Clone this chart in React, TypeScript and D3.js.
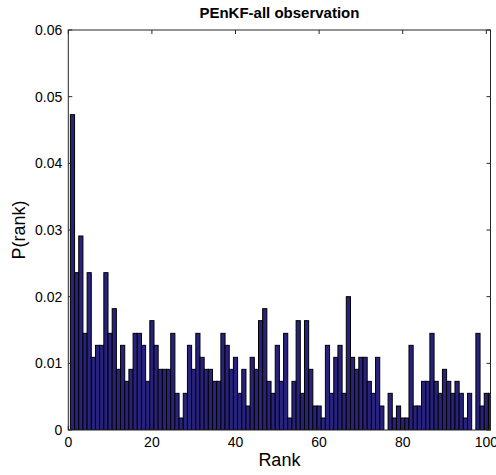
import React from "react";
import * as d3 from "d3";

const ranks: number[] = Array.from({ length: 101 }, (_, i) => i + 1);
const probs: number[] = [
  0.0473, 0.0236, 0.0291, 0.0145, 0.0236, 0.0109, 0.0127, 0.0127, 0.0236, 0.0145,
  0.0182, 0.0091, 0.0127, 0.0073, 0.0091, 0.0145, 0.0145, 0.0127, 0.0073, 0.0164,
  0.0127, 0.0091, 0.0091, 0.0091, 0.0145, 0.0055, 0.0018, 0.0055, 0.0127, 0.0091,
  0.0145, 0.0109, 0.0091, 0.0091, 0.0073, 0.0073, 0.0145, 0.0127, 0.0091, 0.0109,
  0.0055, 0.0091, 0.0036, 0.0109, 0.0091, 0.0164, 0.0182, 0.0073, 0.0055, 0.0127,
  0.0073, 0.0145, 0.0018, 0.0073, 0.0164, 0.0055, 0.0164, 0.0091, 0.0036, 0.0036,
  0.0018, 0.0127, 0.0055, 0.0109, 0.0127, 0.0055, 0.0200, 0.0109, 0.0091, 0.0109,
  0.0109, 0.0073, 0.0055, 0.0109, 0.0036, 0.0, 0.0055, 0.0018, 0.0036, 0.0018,
  0.0018, 0.0127, 0.0036, 0.0036, 0.0073, 0.0073, 0.0145, 0.0073, 0.0055, 0.0091,
  0.0073, 0.0055, 0.0073, 0.0055, 0.0018, 0.0055, 0.0, 0.0145, 0.0036, 0.0055,
  0.0055,
];
const xTicks: number[] = [0, 20, 40, 60, 80, 100];
const yTicks: number[] = [0, 0.01, 0.02, 0.03, 0.04, 0.05, 0.06];
const title = "PEnKF-all observation";
const xLabel = "Rank";
const yLabel = "P(rank)";

export default function App() {
  const W = 496, H = 475;
  const left = 68.3, right = 490.5, top = 30, bottom = 430;
  const x = d3.scaleLinear().domain([0, 101]).range([left, right]);
  const y = d3.scaleLinear().domain([0, 0.06]).range([bottom, top]);
  const bw = x(1) - x(0);
  const axisColor = "#262626";
  const font = "'Liberation Sans', Arial, Helvetica, sans-serif";
  const tl = 4;
  return (
    <svg width={W} height={H} style={{ position: "absolute", left: 0, top: 0, background: "#fff" }} fontFamily={font}>
      <defs>
        <clipPath id="plotclip">
          <rect x={left} y={top} width={right - left} height={bottom - top} />
        </clipPath>
      </defs>
      <rect x={0} y={0} width={W} height={H} fill="#fff" />
      <g clipPath="url(#plotclip)">
        {ranks.map((r, i) => (
          <rect
            key={r}
            x={x(r - 0.5)}
            y={y(probs[i])}
            width={bw}
            height={Math.max(0, y(0) - y(probs[i]))}
            fill="#28227e"
            stroke="#000"
            strokeWidth={1}
          />
        ))}
      </g>
      <rect x={left} y={top} width={right - left} height={bottom - top} fill="none" stroke={axisColor} strokeWidth={1} />
      {xTicks.map((t) => (
        <g key={"x" + t}>
          <line x1={x(t)} x2={x(t)} y1={bottom} y2={bottom - tl} stroke={axisColor} />
          <line x1={x(t)} x2={x(t)} y1={top} y2={top + tl} stroke={axisColor} />
          <text x={x(t)} y={bottom + 17} fontSize={14} textAnchor="middle" fill="#000">
            {t}
          </text>
        </g>
      ))}
      {yTicks.map((t) => (
        <g key={"y" + t}>
          <line x1={left} x2={left + tl} y1={y(t)} y2={y(t)} stroke={axisColor} />
          <line x1={right} x2={right - tl} y1={y(t)} y2={y(t)} stroke={axisColor} />
          <text x={left - 6} y={y(t) + 5} fontSize={14} textAnchor="end" fill="#000">
            {t === 0 ? "0" : t.toFixed(2)}
          </text>
        </g>
      ))}
      <text x={(left + right) / 2} y={18} fontSize={15} fontWeight="bold" textAnchor="middle" fill="#000">
        {title}
      </text>
      <text x={(left + right) / 2} y={466} fontSize={18} textAnchor="middle" fill="#000">
        {xLabel}
      </text>
      <text transform={`translate(25,${(top + bottom) / 2}) rotate(-90)`} fontSize={18} textAnchor="middle" fill="#000">
        {yLabel}
      </text>
    </svg>
  );
}
